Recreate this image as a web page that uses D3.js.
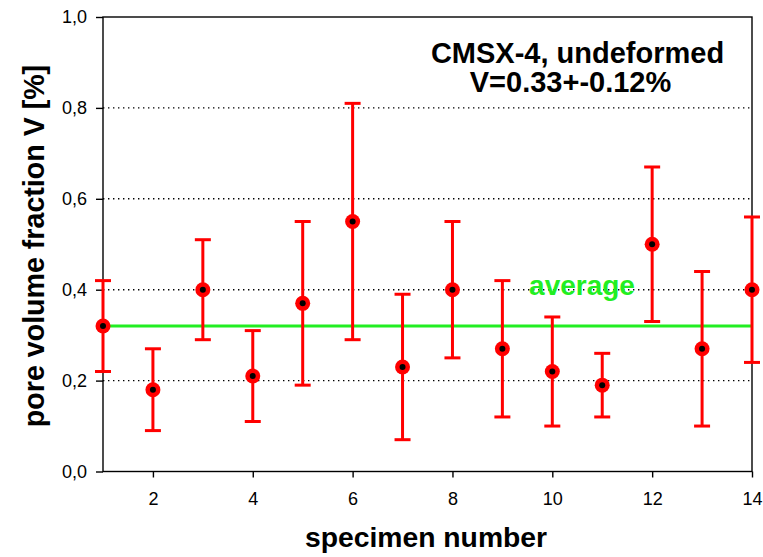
<!DOCTYPE html>
<html><head><meta charset="utf-8">
<script src="https://cdn.jsdelivr.net/npm/d3@7"></script>
<style>body{margin:0;background:#fff}svg{display:block;font-family:"Liberation Sans",Arial,sans-serif}</style>
</head><body><svg id="c" width="763" height="557"></svg>
<script>
const specimens = [1,2,3,4,5,6,7,8,9,10,11,12,13,14];
const values = [0.32,0.18,0.40,0.21,0.37,0.55,0.23,0.40,0.27,0.22,0.19,0.50,0.27,0.40];
const lowers = [0.22,0.09,0.29,0.11,0.19,0.29,0.07,0.25,0.12,0.10,0.12,0.33,0.10,0.24];
const uppers = [0.42,0.27,0.51,0.31,0.55,0.81,0.39,0.55,0.42,0.34,0.26,0.67,0.44,0.56];
const average = 0.32;
const xTicks = [2,4,6,8,10,12,14];
const yTicks = [0,0.2,0.4,0.6,0.8,1.0];
const gridTicks = [0.2,0.4,0.6,0.8];
const titleLines = ["CMSX-4, undeformed","V=0.33+-0.12%"];

const svg = d3.select("#c");
const L=103,R=752,T=17,B=471.5;
const x = d3.scaleLinear().domain([1,14]).range([L,R]);
const y = d3.scaleLinear().domain([0,1]).range([B,T]);
const fmt = d => d3.format(".1f")(d).replace(".",",");

// grid
svg.append("g").selectAll("line").data(gridTicks).join("line")
  .attr("x1",L).attr("x2",R).attr("y1",d=>y(d)).attr("y2",d=>y(d))
  .attr("stroke","#000").attr("stroke-width",1.4).attr("stroke-dasharray","1.4,3.6");

// frame
svg.append("rect").attr("x",L).attr("y",T).attr("width",R-L).attr("height",B-T)
  .attr("fill","none").attr("stroke","#000").attr("stroke-width",1.4);

// axes
const xa = svg.append("g").attr("transform",`translate(0,${B})`)
  .call(d3.axisBottom(x).tickValues(xTicks).tickSize(6).tickPadding(15));
const ya = svg.append("g").attr("transform",`translate(${L},0)`)
  .call(d3.axisLeft(y).tickValues(yTicks).tickFormat(fmt).tickSize(7).tickPadding(9));
[xa,ya].forEach(a=>{
  a.attr("font-size",18).attr("font-family","Liberation Sans, Arial, sans-serif");
  a.select(".domain").remove();
  a.selectAll("line").attr("stroke","#000").attr("stroke-width",1.4);
  a.selectAll("text").style("font-size","18px").attr("fill","#000");
});

// average line
svg.append("line").attr("x1",x(1)).attr("x2",R).attr("y1",y(average)).attr("y2",y(average))
  .attr("stroke","#22ee22").attr("stroke-width",3);

// error bars
const eb = svg.append("g").attr("stroke","#ff0000").attr("stroke-width",3);
specimens.forEach((s,i)=>{
  eb.append("line").attr("x1",x(s)).attr("x2",x(s)).attr("y1",y(lowers[i])).attr("y2",y(uppers[i]));
  [lowers[i],uppers[i]].forEach(v=>{
    eb.append("line").attr("x1",x(s)-8).attr("x2",x(s)+8).attr("y1",y(v)).attr("y2",y(v));
  });
});
// markers
svg.append("g").selectAll("circle").data(specimens).join("circle")
  .attr("cx",d=>x(d)).attr("cy",(d,i)=>y(values[i])).attr("r",7.5).attr("fill","#ff0000");
svg.append("g").selectAll("circle").data(specimens).join("circle")
  .attr("cx",d=>x(d)).attr("cy",(d,i)=>y(values[i])).attr("r",3).attr("fill","#000");

// average label
svg.append("text").attr("x",582).attr("y",295).attr("text-anchor","middle")
  .attr("font-size",28).attr("font-weight","bold").attr("fill","#22ee22").text("average");

// title
svg.append("g").selectAll("text").data(titleLines).join("text")
  .attr("x",(d,i)=>i?570.5:577.5).attr("y",(d,i)=>i?92:63).attr("text-anchor","middle")
  .attr("font-size",29).attr("font-weight","bold").attr("fill","#000").text(d=>d);

// axis titles
svg.append("text").attr("x",426).attr("y",547).attr("text-anchor","middle")
  .attr("font-size",28.3).attr("font-weight","bold").text("specimen number");
svg.append("text").attr("transform","translate(44,246) rotate(-90)").attr("text-anchor","middle")
  .attr("font-size",28.6).attr("font-weight","bold").text("pore volume fraction V [%]");
</script></body></html>
